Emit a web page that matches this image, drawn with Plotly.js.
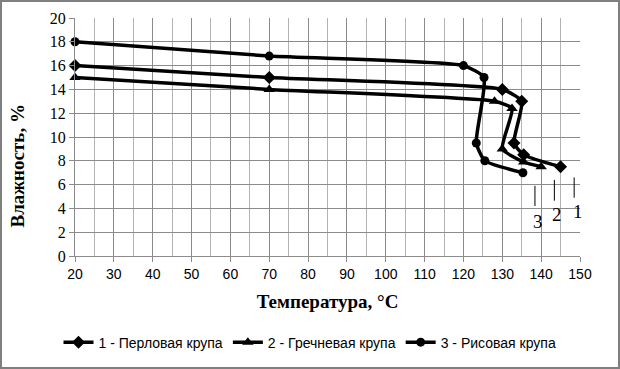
<!DOCTYPE html>
<html>
<head>
<meta charset="utf-8">
<script src="https://cdn.plot.ly/plotly-3.0.1.min.js"></script>
<style>html,body{margin:0;padding:0;background:#fff;}#chart{width:620px;height:369px;}</style>
</head>
<body>
<div id="chart"></div>
<script>
var seriesNames = ["1 - Перловая крупа", "2 - Гречневая крупа", "3 - Рисовая крупа"];
var perlX = [20, 70, 130, 135, 133, 135.5, 145];
var perlY = [16, 15, 14, 13, 9.5, 8.5, 7.5];
var grechX = [20, 70, 128, 132.5, 130, 135.5, 140];
var grechY = [15, 14, 13, 12.4, 9, 7.9, 7.5];
var risX = [20, 70, 120, 125.3, 123.3, 125.5, 135.3];
var risY = [18, 16.8, 16, 15, 9.5, 8, 7];
var curveLabels = ["3", "2", "1"];
var xTicks = [20, 30, 40, 50, 60, 70, 80, 90, 100, 110, 120, 130, 140, 150];
var yTicks = [0, 2, 4, 6, 8, 10, 12, 14, 16, 18, 20];

function tr(x, y, name, sym, sz) {
  return {
    x: x, y: y, name: name, type: 'scatter', mode: 'lines+markers',
    line: {color: '#000', width: 3.5, shape: 'spline', smoothing: 0.5},
    marker: {symbol: sym, size: sz, color: '#000'},
    cliponaxis: false
  };
}
var data = [
  tr(perlX, perlY, seriesNames[0], 'diamond', 10),
  tr(grechX, grechY, seriesNames[1], 'triangle-up', 10),
  tr(risX, risY, seriesNames[2], 'circle', 9)
];

var lblPos = [[139.2, 2.9, 138.4, 4.2, 5.9], [144.1, 3.5, 143.4, 4.65, 6.4], [149.6, 3.7, 148.5, 4.9, 6.6]];
var annotations = [];
var shapes = [];
for (var i = 0; i < curveLabels.length; i++) {
  var p = lblPos[i];
  annotations.push({x: p[0], y: p[1], xref: 'x', yref: 'y', text: curveLabels[i], showarrow: false,
    font: {family: 'Liberation Serif, Times New Roman, serif', size: 19, color: '#000'}});
  shapes.push({type: 'line', xref: 'x', yref: 'y', x0: p[2], x1: p[2], y0: p[3], y1: p[4],
    line: {color: '#000', width: 1}});
}
annotations.push({xref: 'paper', yref: 'paper', x: -0.113, y: 0.38, textangle: -90,
  text: '<b>Влажность, %</b>', showarrow: false, xanchor: 'center', yanchor: 'middle',
  font: {family: 'Liberation Serif, Times New Roman, serif', size: 19, color: '#000'}});

var layout = {
  width: 620, height: 369,
  margin: {l: 75, r: 40, t: 18, b: 113},
  paper_bgcolor: '#fff', plot_bgcolor: '#fff',
  showlegend: true,
  legend: {orientation: 'h', xref: 'container', yref: 'container', x: 0.5, xanchor: 'center',
    y: 0.115, yanchor: 'top',
    font: {family: 'Liberation Sans, Arial, sans-serif', size: 14, color: '#000'},
    tracegroupgap: 0},
  xaxis: {
    range: [20, 150], tickvals: xTicks, ticktext: xTicks.map(String),
    showgrid: true, gridcolor: '#8c8c8c', gridwidth: 1,
    minor: {dtick: 5, showgrid: true, gridcolor: '#b4b4b4', gridwidth: 1},
    zeroline: false, showline: true, linecolor: '#8c8c8c', linewidth: 1,
    ticks: 'outside', ticklen: 5, tickcolor: '#8c8c8c',
    tickfont: {family: 'Liberation Sans, Arial, sans-serif', size: 14, color: '#000'},
    automargin: false,
    title: {text: '<b>Температура, °С</b>', standoff: 13,
      font: {family: 'Liberation Serif, Times New Roman, serif', size: 19, color: '#000'}}
  },
  yaxis: {
    range: [0, 20], tickvals: yTicks, ticktext: yTicks.map(String),
    showgrid: true, gridcolor: '#8c8c8c', gridwidth: 1,
    zeroline: false, showline: true, linecolor: '#8c8c8c', linewidth: 1,
    ticks: 'outside', ticklen: 5, tickcolor: '#8c8c8c',
    tickfont: {family: 'Liberation Serif, Times New Roman, serif', size: 16, color: '#000'},
    automargin: false
  },
  annotations: annotations,
  shapes: shapes
};
Plotly.newPlot('chart', data, layout, {displayModeBar: false, staticPlot: true});
</script>
<div style="position:absolute;left:0;top:0;width:616px;height:365px;border:2px solid #7f7f7f;pointer-events:none;"></div>
</body>
</html>
